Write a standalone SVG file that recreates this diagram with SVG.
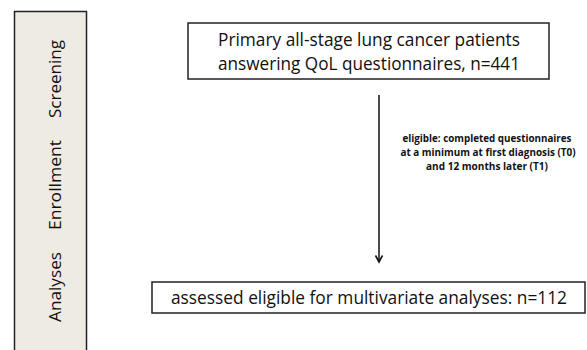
<svg xmlns="http://www.w3.org/2000/svg" width="587" height="350" viewBox="0 0 587 350">
<style>
.t{font-family:"Open Sans","Noto Sans","Liberation Sans",sans-serif;fill:#111}
.big{font-size:19px}
.side{font-size:16px}
.lab{font-size:10.5px;font-weight:bold}
.box{fill:#fff;stroke:#222;stroke-width:1.5}
</style>
<defs>
<marker id="ah" markerWidth="10" markerHeight="10" refX="7" refY="4" orient="auto" markerUnits="userSpaceOnUse" viewBox="0 0 10 10">
<path d="M0.5,0.5 L7,4 L0.5,7.5" fill="none" stroke="#111" stroke-width="1.6"/>
</marker>
</defs>
<rect width="587" height="350" fill="#fff"/>
<g id="stages">
<path d="M14.5,352 L14.5,11.5 L86.5,11.5 L86.5,352" fill="#EEEBE3" stroke="#222" stroke-width="1.5"/>
<text class="t side" transform="translate(61,79) rotate(-90)" text-anchor="middle" textLength="78" lengthAdjust="spacingAndGlyphs">Screening</text>
<text class="t side" transform="translate(61,185) rotate(-90)" text-anchor="middle" textLength="90" lengthAdjust="spacingAndGlyphs">Enrollment</text>
<text class="t side" transform="translate(61,287) rotate(-90)" text-anchor="middle" textLength="70" lengthAdjust="spacingAndGlyphs">Analyses</text>
</g>
<g id="connectors">
<line x1="379" y1="95" x2="379" y2="262" stroke="#111" stroke-width="1.5" marker-end="url(#ah)"/>
</g>
<g id="label">
<text class="t lab" x="487" y="142" text-anchor="middle" textLength="169" lengthAdjust="spacingAndGlyphs">eligible: completed questionnaires</text>
<text class="t lab" x="488" y="156" text-anchor="middle" textLength="175" lengthAdjust="spacingAndGlyphs">at a minimum  at first diagnosis (T0)</text>
<text class="t lab" x="487" y="170" text-anchor="middle" textLength="122" lengthAdjust="spacingAndGlyphs">and 12 months later (T1)</text>
</g>
<g id="node1">
<rect class="box" x="188" y="23" width="361" height="56"/>
<text class="t big" x="369" y="46" text-anchor="middle" textLength="302" lengthAdjust="spacingAndGlyphs">Primary all-stage lung cancer patients</text>
<text class="t big" x="369" y="70" text-anchor="middle" textLength="302" lengthAdjust="spacingAndGlyphs">answering QoL questionnaires, n=441</text>
</g>
<g id="node2">
<rect class="box" x="152" y="282" width="433" height="31"/>
<text class="t big" x="369" y="304" text-anchor="middle" textLength="396" lengthAdjust="spacingAndGlyphs">assessed eligible for multivariate analyses: n=112</text>
</g>
</svg>
